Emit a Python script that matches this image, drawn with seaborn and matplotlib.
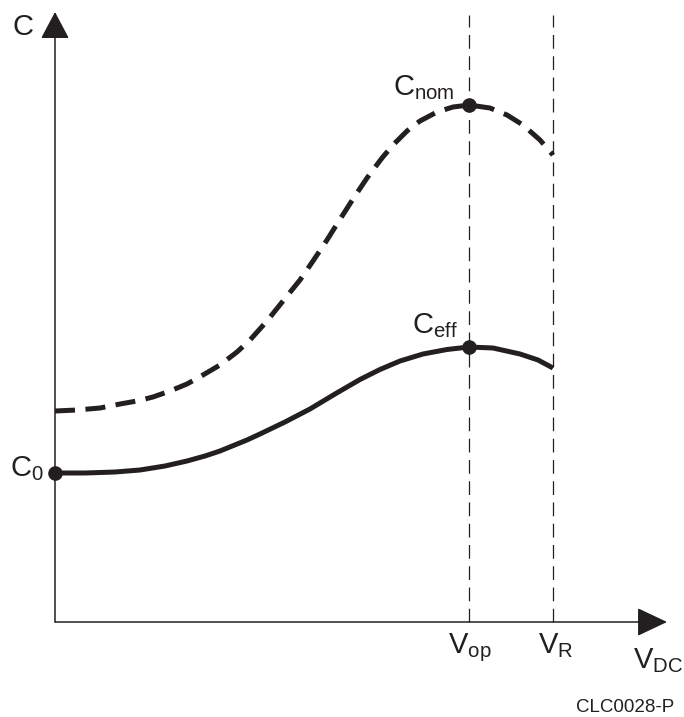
import matplotlib
matplotlib.use("Agg")
import matplotlib.pyplot as plt
import seaborn as sns
import pandas as pd

# ---- data (arbitrary units) ----
v_eff = [0, 30, 60, 85, 110, 132, 150, 165, 192, 205, 230, 255, 280, 305, 325, 345, 368, 392, 414, 438, 465, 483, 498]
c_eff = [149, 149, 150, 152, 156, 161, 166, 171, 182, 188, 200, 213, 228, 242.5, 252.5, 261, 268, 272.5, 275, 274, 268, 262, 254]

v_nom = [0, 22, 45, 65, 82, 98, 115, 132, 148, 165, 182, 195, 212, 228, 245, 258, 272, 282,
         298, 312, 327, 338, 352, 365, 382, 398, 414, 435, 452, 468, 485, 498]
c_nom = [211, 212, 214, 218, 221, 225, 231, 238, 247, 257, 270, 282, 301, 321, 342, 361, 382, 398,
         423, 444, 464, 477, 491, 501, 510, 515, 517, 514, 507, 497, 482, 467]

v_op = 414
v_r = 498
c_0 = 149

point_labels = ["C$_{0}$", "C$_{\\mathregular{eff}}$", "C$_{\\mathregular{nom}}$"]
x_labels = ["V$_{\\mathregular{op}}$", "V$_{\\mathregular{R}}$", "V$_{\\mathregular{DC}}$"]

sns.set_style("white")
plt.rcParams["font.family"] = ["Liberation Sans", "DejaVu Sans"]
plt.rcParams["mathtext.fontset"] = "custom"
plt.rcParams["mathtext.rm"] = "Liberation Sans"
plt.rcParams["mathtext.it"] = "Liberation Sans"
plt.rcParams["mathtext.default"] = "regular"

fig = plt.figure(figsize=(6.84, 7.17), dpi=100)
ax = fig.add_axes([0, 0, 1, 1])
ax.set_xlim(-55, 629)
ax.set_ylim(-95, 622)
ax.axis("off")

df_eff = pd.DataFrame({"V": v_eff, "C": c_eff})
df_nom = pd.DataFrame({"V": v_nom, "C": c_nom})

ink = "#231f20"

# vertical reference lines
for xv in (v_op, v_r):
    ax.plot([xv, xv], [0, 607], color=ink, lw=0.9, dashes=(11, 6), zorder=1)

sns.lineplot(data=df_eff, x="V", y="C", sort=False, ax=ax, color=ink,
             lw=3.6, solid_capstyle="butt", solid_joinstyle="round", zorder=3)
sns.lineplot(data=df_nom, x="V", y="C", sort=False, ax=ax, color=ink,
             lw=3.6, dashes=False, zorder=3)
ax.lines[-1].set_dashes((4.0, 2.1))
ax.lines[-1].set_dash_capstyle("butt")
ax.lines[-1].set_dash_joinstyle("round")

# axes with arrows
ax.plot([0, 0], [0, 600], color=ink, lw=1.1, zorder=2)
ax.plot([0, 600], [0, 0], color=ink, lw=1.1, zorder=2)
ax.annotate("", xy=(0, 610), xytext=(0, 585),
            arrowprops=dict(arrowstyle="-|>,head_length=0.85,head_width=0.45",
                            mutation_scale=20, color=ink, lw=1.1, shrinkA=0, shrinkB=0))
ax.annotate("", xy=(612, 0), xytext=(585, 0),
            arrowprops=dict(arrowstyle="-|>,head_length=0.95,head_width=0.45",
                            mutation_scale=20, color=ink, lw=1.1, shrinkA=0, shrinkB=0))

# points
ax.plot([0, v_op, v_op], [c_0, c_eff[v_eff.index(v_op)], c_nom[v_nom.index(v_op)]],
        "o", color=ink, ms=9.5, zorder=4)

fs = 21
ax.text(-43, 587, "C", fontsize=fs, ha="left", va="baseline", color=ink)
ax.text(-11, 146, point_labels[0], fontsize=fs, ha="right", va="baseline", color=ink)
ax.text(357, 289, point_labels[1], fontsize=fs, ha="left", va="baseline", color=ink)
ax.text(338, 527, point_labels[2], fontsize=fs, ha="left", va="baseline", color=ink)
ax.text(393, -31, x_labels[0], fontsize=fs, ha="left", va="baseline", color=ink)
ax.text(483, -31, x_labels[1], fontsize=fs, ha="left", va="baseline", color=ink)
ax.text(578, -46, x_labels[2], fontsize=fs, ha="left", va="baseline", color=ink)
ax.text(521, -90, "CLC0028-P", fontsize=13.5, ha="left", va="baseline", color=ink)

fig.savefig("out.png", dpi=100)
